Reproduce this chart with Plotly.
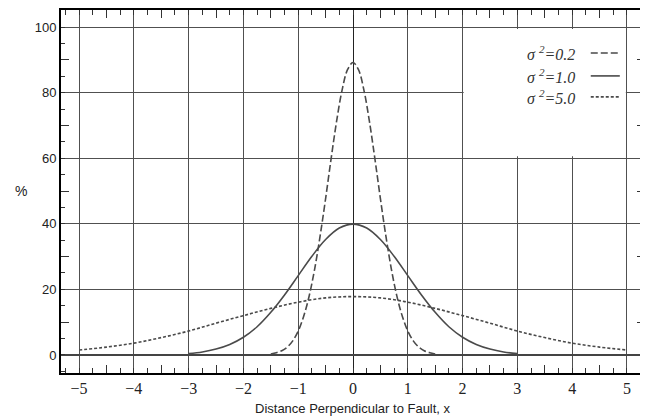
import plotly.graph_objects as go

# Curve values (%)
x_s02 = [-1.5, -1.4, -1.3, -1.2, -1.1, -1.0, -0.9, -0.8, -0.7, -0.6, -0.5, -0.4, -0.3, -0.2, -0.1, 0.0,
         0.1, 0.2, 0.3, 0.4, 0.5, 0.6, 0.7, 0.8, 0.9, 1.0, 1.1, 1.2, 1.3, 1.4, 1.5]
y_s02 = [0.3, 0.7, 1.3, 2.4, 4.3, 7.3, 11.8, 18.0, 26.2, 36.3, 47.7, 59.8, 71.2, 80.7, 87.0, 89.2,
         87.0, 80.7, 71.2, 59.8, 47.7, 36.3, 26.2, 18.0, 11.8, 7.3, 4.3, 2.4, 1.3, 0.7, 0.3]

x_s10 = [-3.0, -2.75, -2.5, -2.25, -2.0, -1.75, -1.5, -1.25, -1.0, -0.75, -0.5, -0.25, 0.0,
         0.25, 0.5, 0.75, 1.0, 1.25, 1.5, 1.75, 2.0, 2.25, 2.5, 2.75, 3.0]
y_s10 = [0.4, 0.9, 1.8, 3.2, 5.4, 8.6, 13.0, 18.3, 24.2, 30.1, 35.2, 38.7, 39.9,
         38.7, 35.2, 30.1, 24.2, 18.3, 13.0, 8.6, 5.4, 3.2, 1.8, 0.9, 0.4]

x_s50 = [-5.0, -4.5, -4.0, -3.5, -3.0, -2.5, -2.0, -1.5, -1.0, -0.5, 0.0,
         0.5, 1.0, 1.5, 2.0, 2.5, 3.0, 3.5, 4.0, 4.5, 5.0]
y_s50 = [1.5, 2.4, 3.6, 5.3, 7.3, 9.7, 12.0, 14.2, 16.1, 17.4, 17.8,
         17.4, 16.1, 14.2, 12.0, 9.7, 7.3, 5.3, 3.6, 2.4, 1.5]

legend_labels = ["σ <sup>2</sup>=0.2", "σ <sup>2</sup>=1.0", "σ <sup>2</sup>=5.0"]
x_ticks = [-5, -4, -3, -2, -1, 0, 1, 2, 3, 4, 5]
y_ticks = [0, 20, 40, 60, 80, 100]

LINE = "#4a4a4a"
GRID = "#505050"
dashes = ["7px,3px", "solid", "3px,2px"]

fig = go.Figure()
for xs, ys, d in [(x_s02, y_s02, dashes[0]), (x_s10, y_s10, dashes[1]), (x_s50, y_s50, dashes[2])]:
    fig.add_trace(go.Scatter(x=xs, y=ys, mode="lines", line=dict(color=LINE, width=1.6, dash=d, shape="spline"),
                             showlegend=False, hoverinfo="skip"))

# helper trace for the longer half-step ticks
fig.add_trace(go.Scatter(x=[0], y=[0], xaxis="x2", yaxis="y2", mode="markers", marker=dict(opacity=0),
                         showlegend=False, hoverinfo="skip"))

XR = [-5.33, 5.33]
YR = [-5.5, 105.2]

# page body has an 8px margin, so the figure is sized/offset to fill the 648x418 window
fig.update_layout(
    width=640, height=410,
    margin=dict(l=53, r=3, t=2, b=45),
    paper_bgcolor="white", plot_bgcolor="white",
    xaxis=dict(range=XR, tickvals=x_ticks, showgrid=True, gridcolor=GRID, gridwidth=1, automargin=False,
               zeroline=True, zerolinecolor="#222", zerolinewidth=1.4,
               showline=True, linecolor="black", linewidth=2, mirror="allticks",
               ticks="inside", ticklen=0, tickcolor="#333",
               minor=dict(dtick=0.25, tick0=0, ticks="inside", ticklen=5, tickcolor="#333", showgrid=False),
               tickfont=dict(family="Liberation Serif, Times New Roman, serif", size=16, color="#222")),
    yaxis=dict(range=YR, tickvals=y_ticks, showgrid=True, gridcolor=GRID, gridwidth=1, automargin=False,
               zeroline=True, zerolinecolor="#444", zerolinewidth=1.8,
               showline=True, linecolor="black", linewidth=2, mirror="allticks",
               ticks="inside", ticklen=0, tickcolor="#333",
               minor=dict(dtick=5, tick0=0, ticks="inside", ticklen=4, tickcolor="#333", showgrid=False),
               tickfont=dict(family="Liberation Sans, Arial, sans-serif", size=13, color="#222")),
    xaxis2=dict(range=XR, overlaying="x", tickvals=[-4.5, -3.5, -2.5, -1.5, -0.5, 0.5, 1.5, 2.5, 3.5, 4.5],
                showticklabels=False, showgrid=False, zeroline=False, ticks="inside", ticklen=8, automargin=False,
                tickcolor="#333", mirror="allticks", showline=False, side="bottom"),
    yaxis2=dict(range=YR, overlaying="y", tickvals=[10, 30, 50, 70, 90], automargin=False,
                showticklabels=False, showgrid=False, zeroline=False, ticks="inside", ticklen=8,
                tickcolor="#333", mirror="allticks", showline=False, side="left"),
)

# white legend panel hiding the grid, as in the reference
fig.add_shape(type="rect", xref="x", yref="y", x0=2.02, x1=4.98, y0=60.6, y1=99.4,
              fillcolor="white", line=dict(width=0), layer="between")

leg_y = [92.1, 85.1, 78.7]
for lab, yy, d in zip(legend_labels, leg_y, dashes):
    fig.add_annotation(x=4.09, y=yy, xref="x", yref="y", text="<i>" + lab + "</i>", showarrow=False,
                       xanchor="right", yanchor="middle",
                       font=dict(family="Liberation Serif, Times New Roman, serif", size=16, color="#333"))
    fig.add_shape(type="line", xref="x", yref="y", x0=4.34, x1=4.87, y0=yy, y1=yy,
                  line=dict(color=LINE, width=1.6, dash=d))

fig.add_annotation(x=-0.083, y=50, xref="paper", yref="y", text="%", showarrow=False,
                   font=dict(family="Liberation Sans, Arial, sans-serif", size=14, color="#222"))
fig.add_annotation(x=0.5, y=-0.099, xref="paper", yref="paper", text="Distance Perpendicular to Fault, x",
                   showarrow=False, xanchor="center", yanchor="middle",
                   font=dict(family="Liberation Sans, Arial, sans-serif", size=13, color="#222"))

fig.write_html("out.html")
